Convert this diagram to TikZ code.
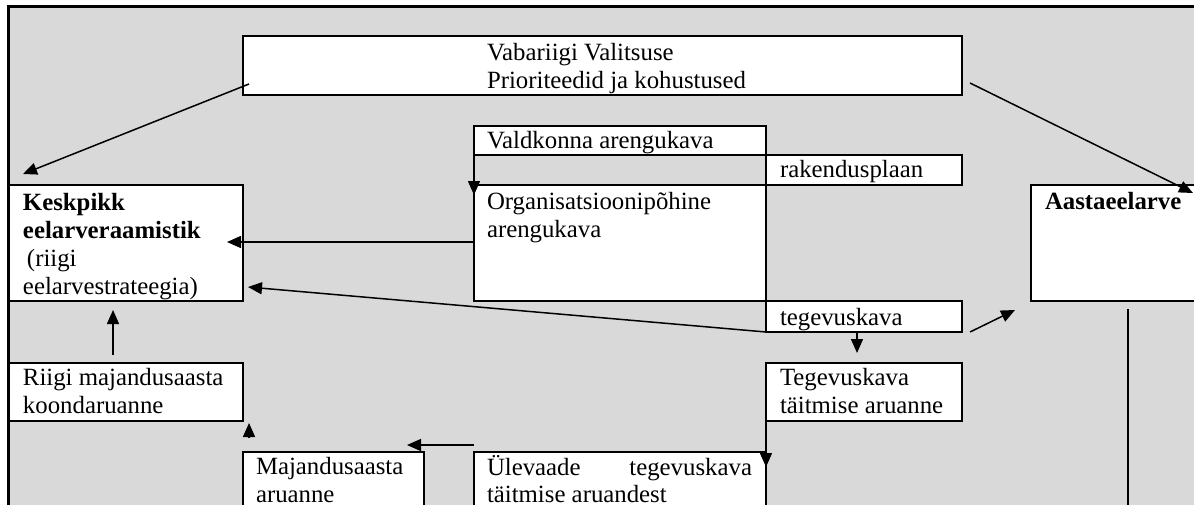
\documentclass[tikz,border=0pt]{standalone}
\usepackage{fontspec}
\setmainfont{Liberation Serif}
\usetikzlibrary{arrows.meta,calc}
\definecolor{panelgray}{RGB}{217,217,217}
\begin{document}
\begin{tikzpicture}[x=1pt,y=-1pt,
  panelbox/.style={fill=panelgray, draw=black, line width=2.5pt, inner sep=0pt, outer sep=0pt, anchor=north west},
  docbox/.style={draw=black, fill=white, line width=1.6pt, inner sep=0pt, outer sep=0pt, anchor=north west},
  txt/.style={inner sep=0pt, outer sep=0pt, anchor=base west, font=\fontsize{24.8}{28}\selectfont},
  boldtxt/.style={txt, font=\fontsize{24.8}{28}\selectfont\bfseries},
  flow/.style={line width=1.5pt, -{Triangle[length=14pt,width=12pt]}},
  bareline/.style={line width=1.5pt}]

\useasboundingbox (0,0) rectangle (1194,504);
\clip (0,0) rectangle (1194,504);

% grey table area
\node[panelbox, minimum width=1230pt, minimum height=540pt] (panel) at (8.5,6.5) {};

% document boxes
\node[docbox, minimum width=719pt, minimum height=59pt]  (vab)   at (243,36)  {};
\node[docbox, minimum width=292pt, minimum height=29pt]  (vald)  at (474,126) {};
\node[docbox, minimum width=196pt, minimum height=30pt]  (rak)   at (766,155) {};
\node[docbox, minimum width=292pt, minimum height=116pt] (org)   at (474,185) {};
\node[docbox, minimum width=196pt, minimum height=31pt]  (teg)   at (766,301) {};
\node[docbox, minimum width=196pt, minimum height=58pt]  (tta)   at (766,363) {};
\node[docbox, minimum width=234pt, minimum height=116pt] (kesk)  at (9,185)   {};
\node[docbox, minimum width=234pt, minimum height=58pt]  (riigi) at (9,363)   {};
\node[docbox, minimum width=181pt, minimum height=80pt]  (maj)   at (243,452) {};
\node[docbox, minimum width=292pt, minimum height=80pt]  (ulev)  at (474,452) {};
\node[docbox, minimum width=220pt, minimum height=116pt] (aasta) at (1031,185) {};

% labels
\node[txt] (vab1) at (487,60) {Vabariigi Valitsuse};
\node[txt] (vab2) at (487,88) {Prioriteedid ja kohustused};
\node[txt] (vald1) at (487,148) {Valdkonna arengukava};
\node[txt] (rak1) at (780,177) {rakendusplaan};
\node[txt] (org1) at (487,209) {Organisatsioonipõhine};
\node[txt] (org2) at (487,237) {arengukava};
\node[boldtxt] (kesk1) at (23,210) {Keskpikk};
\node[boldtxt] (kesk2) at (23,238) {eelarveraamistik};
\node[txt] (kesk3) at (27,266) {(riigi};
\node[txt] (kesk4) at (23,294) {eelarvestrateegia)};
\node[boldtxt] (aasta1) at (1045,209) {Aastaeelarve};
\node[txt] (teg1) at (780,325) {tegevuskava};
\node[txt] (tta1) at (780,385) {Tegevuskava};
\node[txt] (tta2) at (780,413) {täitmise aruanne};
\node[txt] (riigi1) at (23,385) {Riigi majandusaasta};
\node[txt] (riigi2) at (23,413) {koondaruanne};
\node[txt] (maj1) at (256,474) {Majandusaasta};
\node[txt] (maj2) at (256,502) {aruanne};
\node[txt] (ulev1) at (487,475) {\makebox[265pt]{Ülevaade\hfill tegevuskava}};
\node[txt] (ulev2) at (487,502) {täitmise aruandest};

% connectors
\draw[flow] ($(vab.north west)+(6,48)$) -- ($(kesk.north west)+(14,-11)$);
\draw[flow] ($(vab.north east)+(8,47)$) -- ($(aasta.north west)+(162,8)$);
\draw[flow] (vald.south west) -- ($(org.north west)+(0,10)$);
\draw[flow] ($(org.north west)+(0,57)$) -- ($(kesk.north east)+(-16,57)$);
\draw[flow] (teg.south west) -- ($(kesk.north east)+(5,102)$);
\draw[flow] ($(teg.south west)+(91,0)$) -- ($(tta.north west)+(91,-10)$);
\draw[flow] ($(teg.south east)+(8,0)$) -- ($(aasta.south west)+(-16,9)$);
\draw[bareline] ($(aasta.south west)+(97,8)$) -- ($(aasta.south west)+(97,230)$);
\draw[flow] ($(riigi.north west)+(104,-8)$) -- ($(kesk.south west)+(104,9)$);
\draw[flow] ($(maj.north west)+(6,-15)$) -- ($(riigi.south east)+(6,2)$);
\draw[flow] ($(ulev.north west)+(0,-7)$) -- ($(maj.north east)+(-17,-7)$);
\draw[flow] (tta.south west) -- ($(ulev.north east)+(0,15)$);
\end{tikzpicture}
\end{document}
